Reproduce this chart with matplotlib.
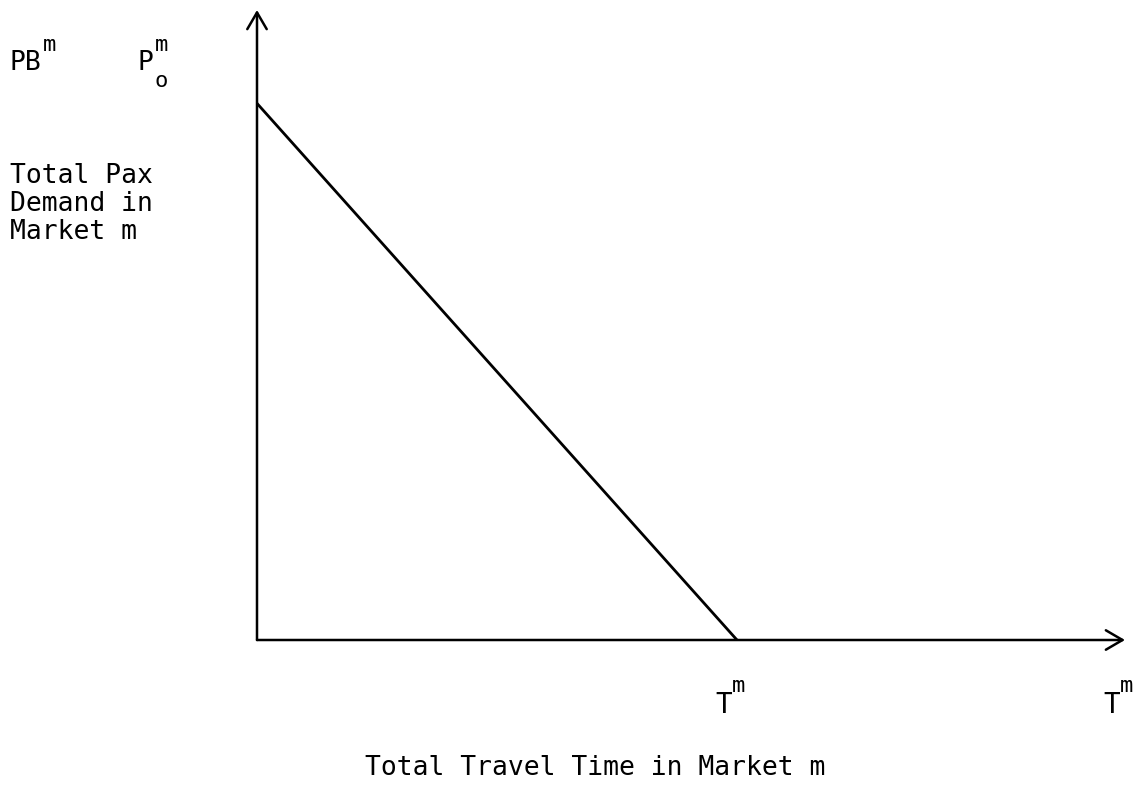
import matplotlib
matplotlib.use('Agg')
import matplotlib.pyplot as plt
from matplotlib.transforms import offset_copy

plt.rcParams['font.family'] = 'DejaVu Sans Mono'

# demand line: full demand at zero travel time, zero demand at T^m
travel_time = [0, 55.3]
demand = [100, 0]
x_max = 100
y_max = 117.4
tick_pos = [55.3, 100]

W, H = 1136, 786
FS = 19
ADV = FS * 100 / 72 * 0.602   # monospace advance in pixels


def script_text(fig, trans, base, sup=None, sub=None, size=FS):
    fig.text(0, 0, base, fontsize=size, ha='left', va='baseline', transform=trans)
    dx = len(base) * size * 100 / 72 * 0.602 + 1
    if sup:
        fig.text(0, 0, sup, fontsize=16, ha='left', va='baseline',
                 transform=offset_copy(trans, fig, x=dx, y=19, units='dots'))
    if sub:
        fig.text(0, 0, sub, fontsize=16, ha='left', va='baseline',
                 transform=offset_copy(trans, fig, x=dx, y=-17, units='dots'))


def px(fig, x, y):
    return offset_copy(fig.transFigure, fig, x=x, y=H - y, units='dots')


fig = plt.figure(figsize=(W / 100, H / 100), dpi=100)
ax = fig.add_axes([257 / W, 146 / H, 868 / W, 630 / H])
ax.set_xlim(0, x_max)
ax.set_ylim(0, y_max)

ax.plot(travel_time, demand, color='black', lw=2.0, solid_capstyle='butt')

for s in ax.spines.values():
    s.set_visible(False)
arrow = dict(arrowstyle='->,head_length=0.6,head_width=0.35', lw=1.8,
             color='black', mutation_scale=20, shrinkA=0, shrinkB=0)
ax.annotate('', xy=(1, 0), xytext=(0, 0), xycoords='axes fraction', arrowprops=arrow)
ax.annotate('', xy=(0, 1), xytext=(0, 0), xycoords='axes fraction', arrowprops=arrow)
ax.set_xticks([])
ax.set_yticks([])

# T^m labels under the axis at the two tick positions
for t in tick_pos:
    ax.text(t, 0, 'T', fontsize=20, ha='left', va='baseline',
            transform=offset_copy(ax.transData, fig, x=-22, y=-73, units='dots'))
    ax.text(t, 0, 'm', fontsize=16, ha='left', va='baseline',
            transform=offset_copy(ax.transData, fig, x=-5, y=-52, units='dots'))

fig.text(365 / W, 1 - 768 / H, 'Total Travel Time in Market m',
         fontsize=FS, ha='left', va='center')
fig.text(10 / W, 1 - 163 / H, 'Total Pax\nDemand in\nMarket m',
         fontsize=FS, ha='left', va='top', linespacing=1.1)
script_text(fig, px(fig, 10, 70), 'PB', sup='m')
script_text(fig, px(fig, 138, 70), 'P', sup='m', sub='o')

fig.savefig('out.png', dpi=100)
